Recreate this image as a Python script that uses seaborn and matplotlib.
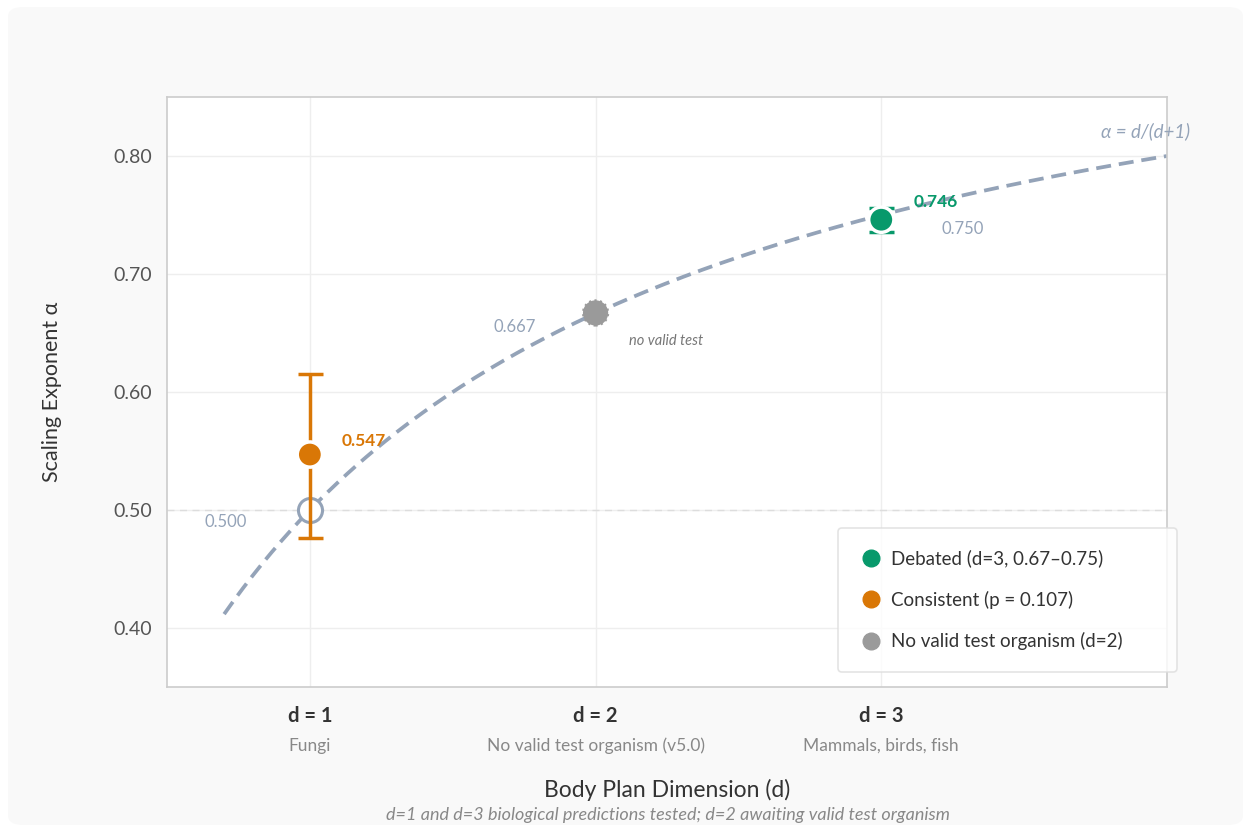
import numpy as np
import matplotlib
matplotlib.use("Agg")
import matplotlib.pyplot as plt
from matplotlib.patches import FancyBboxPatch
from matplotlib.lines import Line2D
import matplotlib.transforms as mtransforms
import seaborn as sns

# Body-plan dimensions and their labels
dims = [1, 2, 3]
dim_labels = ["d = 1", "d = 2", "d = 3"]
organisms = ["Fungi", "No valid test organism (v5.0)", "Mammals, birds, fish"]

# Predicted exponents alpha = d/(d+1)
predicted = [0.500, 0.667, 0.750]

# Measured exponents with confidence bounds
measured_d = [1, 3]
measured_alpha = [0.547, 0.746]
ci_low = [0.476, 0.736]
ci_high = [0.615, 0.756]

legend_labels = ["Debated (d=3, 0.67\u20130.75)",
                 "Consistent (p = 0.107)",
                 "No valid test organism (d=2)"]

GREEN = "#08996b"
ORANGE = "#d97706"
GRAY = "#9a9a9a"
SLATE = "#94a3b8"
TEXT = "#333333"
MUTED = "#777777"

sns.set_theme(style="whitegrid")
plt.rcParams["font.family"] = ["Lato", "DejaVu Sans"]

fig = plt.figure(figsize=(12.43, 8.25), dpi=100)
fig.patch.set_facecolor("white")
panel = FancyBboxPatch((8 / 1243, 0), 1235 / 1243, 818 / 825,
                       boxstyle="round,pad=0,rounding_size=0.012",
                       transform=fig.transFigure, facecolor="#f9f9f9",
                       edgecolor="none", zorder=-10)
fig.patches.append(panel)

ax = fig.add_axes([167 / 1243, 138 / 825, 1000 / 1243, 590 / 825])
ax.set_facecolor("white")
for s in ax.spines.values():
    s.set_color("#cccccc")
    s.set_linewidth(1.2)
ax.grid(True, color="#eeeeee", linewidth=1)

# Theoretical curve
d_curve = np.linspace(0.7, 4.0, 200)
sns.lineplot(x=d_curve, y=d_curve / (d_curve + 1), ax=ax, color=SLATE,
             linewidth=2.7, linestyle=(0, (4.0, 2.1)), zorder=2)

ax.axhline(0.5, color="#dddddd", linewidth=1, linestyle=(0, (5, 4)), zorder=1)

# Predicted value at d=1 (hollow)
ax.scatter([dims[0]], [predicted[0]], s=300, facecolor="white",
           edgecolor=SLATE, linewidth=2.2, zorder=3)

# d=2 prediction without a valid test organism
ax.scatter([dims[1]], [predicted[1]], s=330, color=GRAY, edgecolor=GRAY,
           linewidth=1.5, linestyle=":", zorder=4)

# Measured values with confidence intervals
colors = [ORANGE, GREEN]
for d, a, lo, hi, c in zip(measured_d, measured_alpha, ci_low, ci_high, colors):
    ax.errorbar([d], [a], yerr=[[a - lo], [hi - a]], fmt="none", ecolor=c,
                elinewidth=2.5, capsize=9, capthick=2.5, zorder=4)
sns.scatterplot(x=measured_d, y=measured_alpha, ax=ax, hue=[0, 1],
                palette=colors, s=330, edgecolor="white", linewidth=2.5,
                legend=False, zorder=5)

# Value annotations
ax.annotate(f"{measured_alpha[0]:.3f}", (measured_d[0], measured_alpha[0]),
            xytext=(23, 10), textcoords="offset points", color=ORANGE,
            fontsize=12.5, fontweight="bold", va="center")
ax.annotate(f"{measured_alpha[1]:.3f}", (measured_d[1], measured_alpha[1]),
            xytext=(23, 13), textcoords="offset points", color=GREEN,
            fontsize=12.5, fontweight="bold", va="center")
ax.annotate(f"{predicted[0]:.3f}", (dims[0], predicted[0]),
            xytext=(-45, -8.6), textcoords="offset points", color=SLATE,
            fontsize=12, ha="right", va="center")
ax.annotate(f"{predicted[1]:.3f}", (dims[1], predicted[1]),
            xytext=(-43, -10), textcoords="offset points", color=SLATE,
            fontsize=12, ha="right", va="center")
ax.annotate(f"{predicted[2]:.3f}", (dims[2], predicted[2]),
            xytext=(43, -10), textcoords="offset points", color=SLATE,
            fontsize=12, ha="left", va="center")
ax.annotate("no valid test", (dims[1], predicted[1]),
            xytext=(24, -20), textcoords="offset points", color=MUTED,
            fontsize=10.5, style="italic", ha="left", va="center")
ax.text(4.082, 0.821, "\u03b1 = d/(d+1)", color=SLATE, fontsize=13.5,
        style="italic", ha="right", va="center", clip_on=False)

ax.set_xlim(0.5, 4.0)
ax.set_ylim(0.35, 0.85)
ax.set_yticks([0.4, 0.5, 0.6, 0.7, 0.8])
ax.set_yticklabels([f"{v:.2f}" for v in [0.4, 0.5, 0.6, 0.7, 0.8]])
ax.tick_params(axis="y", labelsize=14, labelcolor="#555555", length=0, pad=11)
ax.set_xticks(dims)
ax.set_xticklabels(dim_labels, fontsize=14.5, fontweight="bold", color=TEXT)
ax.tick_params(axis="x", length=0, pad=14)

trans = mtransforms.blended_transform_factory(ax.transData, ax.transAxes)
for d, org in zip(dims, organisms):
    ax.text(d, -0.1, org, transform=trans, ha="center", va="center",
            fontsize=12.5, color="#888888")

ax.set_ylabel("Scaling Exponent \u03b1", fontsize=15.5, color=TEXT)
ax.yaxis.set_label_coords(-0.105, 0.5)
ax.set_xlabel("Body Plan Dimension (d)", fontsize=16.5, color=TEXT)
ax.xaxis.set_label_coords(0.5, -0.175)
ax.xaxis.label.set_va("center")
fig.text(668 / 1243, 1 - 815 / 825,
         "d=1 and d=3 biological predictions tested; d=2 awaiting valid test organism",
         ha="center", va="center", fontsize=13, style="italic", color="#888888")

# Legend
handles = [Line2D([0], [0], marker="o", linestyle="none", markersize=12,
                  markerfacecolor=c, markeredgecolor=c)
           for c in [GREEN, ORANGE, GRAY]]
leg = fig.legend(handles, legend_labels, loc="upper left", mode="expand",
                 bbox_to_anchor=(838 / 1243, 1 - 670 / 825, 339 / 1243, 142 / 825),
                 fontsize=13.5, frameon=True, fancybox=True, borderpad=1.15,
                 labelspacing=1.25, handletextpad=0.5, handlelength=1.2,
                 borderaxespad=0)
leg.get_frame().set_facecolor("white")
leg.get_frame().set_edgecolor("#dddddd")
leg.get_frame().set_linewidth(1.2)
for t in leg.get_texts():
    t.set_color(TEXT)

fig.savefig("out.png", dpi=100, facecolor="white")
